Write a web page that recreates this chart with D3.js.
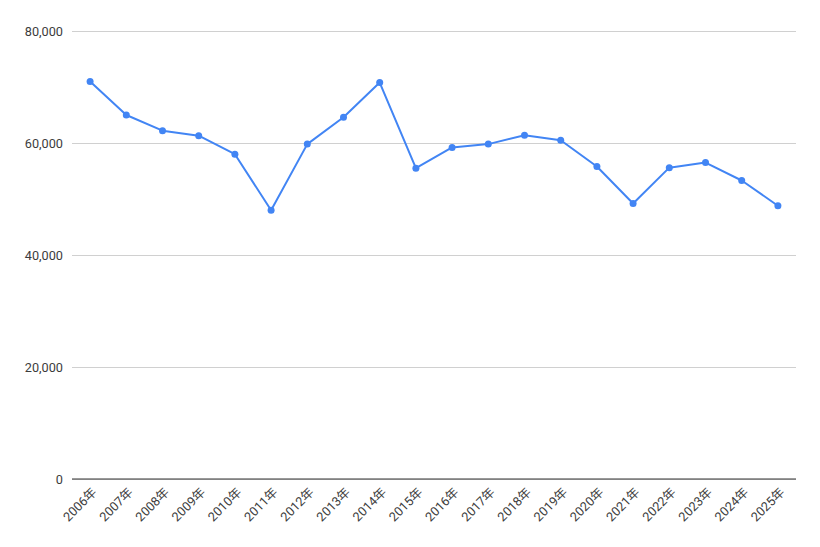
<!DOCTYPE html>
<html>
<head>
<meta charset="utf-8">
<script src="https://cdn.jsdelivr.net/npm/d3@7"></script>
<style>
  body { margin: 0; background: #fff; }
  text { font-family: Roboto, "Noto Sans CJK JP", sans-serif; }
</style>
</head>
<body>
<div id="chart"></div>
<script>
// data
const years = ['2006年', '2007年', '2008年', '2009年', '2010年', '2011年', '2012年', '2013年', '2014年', '2015年',
    '2016年', '2017年', '2018年', '2019年', '2020年', '2021年', '2022年', '2023年', '2024年', '2025年'];
const values = [71000, 65000, 62200, 61300, 58000, 48000, 59800, 64600, 70800, 55500,
    59200, 59800, 61400, 60500, 55800, 49200, 55600, 56500, 53300, 48800];
const yTicks = [0, 20000, 40000, 60000, 80000];

const width = 820;
const height = 547;
const margins = { top: 31, bottom: 68, left: 72, right: 24 };

const svg = d3.select('#chart')
    .append('svg')
    .attr('width', width)
    .attr('height', height);

const chart = svg.append('g')
    .attr('transform', `translate(${margins.left}, ${margins.top})`);

const chartWidth = width - (margins.left + margins.right);
const chartHeight = height - (margins.top + margins.bottom);

const xScale = d3.scalePoint()
    .domain(years)
    .range([0, chartWidth])
    .padding(0.5);

const yScale = d3.scaleLinear()
    .domain([0, 80000])
    .range([chartHeight, 0]);

// gridlines + y labels
const yAxis = d3.axisLeft(yScale)
    .tickValues(yTicks)
    .tickSize(-chartWidth)
    .tickPadding(9)
    .tickFormat(d3.format(','));

chart.append('g')
    .classed('y-axis', true)
    .call(yAxis)
    .call(g => g.select('.domain').remove())
    .call(g => g.selectAll('line').attr('stroke', '#d0d0d0'))
    .call(g => g.selectAll('text').attr('fill', '#3c3c3c').style('font-size', '12.7px'));

// baseline
chart.append('line')
    .attr('x1', 0)
    .attr('x2', chartWidth)
    .attr('y1', yScale(0))
    .attr('y2', yScale(0))
    .attr('stroke', '#333')
    .attr('stroke-width', 1);

// x labels
const xAxis = d3.axisBottom(xScale).tickSize(0).tickPadding(0);

chart.append('g')
    .classed('x-axis', true)
    .attr('transform', `translate(0, ${chartHeight})`)
    .call(xAxis)
    .call(g => g.select('.domain').remove())
    .selectAll('text')
    .attr('fill', '#3c3c3c')
    .style('font-size', '12.7px')
    .attr('dy', null)
    .attr('y', 0)
    .attr('transform', 'translate(7, 14) rotate(-45)')
    .style('text-anchor', 'end');

// line
const line = d3.line()
    .x((d, i) => xScale(years[i]))
    .y(d => yScale(d));

chart.append('path')
    .datum(values)
    .attr('d', line)
    .attr('fill', 'none')
    .attr('stroke', '#4285f4')
    .attr('stroke-width', 2)
    .attr('stroke-linejoin', 'round');

chart.append('g')
    .selectAll('.dot')
    .data(values)
    .enter()
    .append('circle')
    .classed('dot', true)
    .attr('cx', (d, i) => xScale(years[i]))
    .attr('cy', d => yScale(d))
    .attr('r', 3.5)
    .attr('fill', '#4285f4');
</script>
</body>
</html>
